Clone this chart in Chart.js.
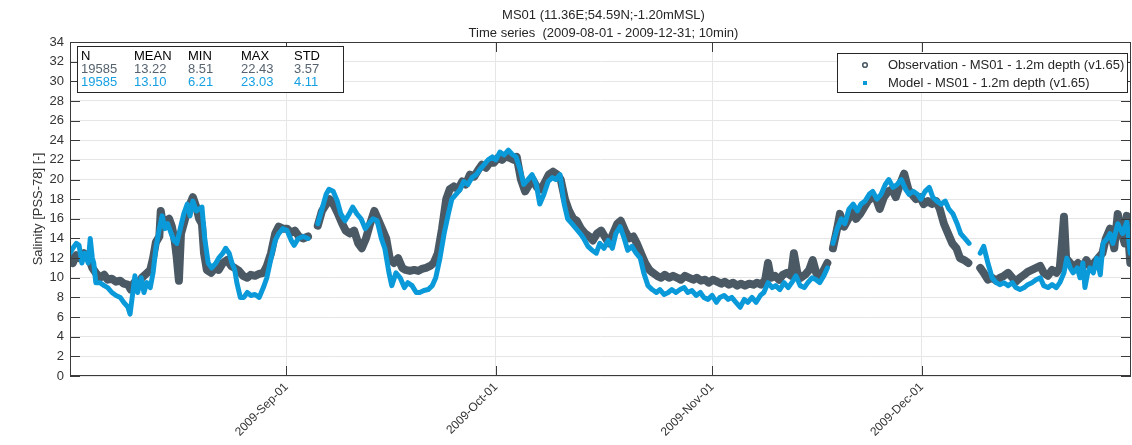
<!DOCTYPE html>
<html>
<head>
<meta charset="utf-8">
<title>MS01 salinity time series</title>
<script src="https://cdn.jsdelivr.net/npm/chart.js@4.4.1/dist/chart.umd.min.js"></script>
<style>
  html, body { margin: 0; padding: 0; background: #ffffff; }
  #wrap { width: 1132px; height: 445px; }
</style>
</head>
<body>
<div id="wrap"><canvas id="chart" width="1132" height="445"></canvas></div>
<script>
// Time axis: days since 2009-08-01 00:00 (range 2009-08-01 .. 2009-12-31)
const dayMin = 0;
const dayMax = 152;
const tickDays = [31, 61, 92, 122];
const tickLabels = ['2009-Sep-01', '2009-Oct-01', '2009-Nov-01', '2009-Dec-01'];

// Observed salinity (null = missing record)
const obsDay = [
  0.0, 0.4, 0.9, 1.4, 2.0, 2.6, 3.2, 3.7, 4.3, 4.9,
  5.4, 6.0, 6.6, 7.2, 7.7, 8.3, 8.7, 9.2, 9.7, 10.3,
  10.9, 11.5, 11.9, 12.3, 12.8, 13.0, 13.3, 13.8, 14.2, 14.6,
  15.0, 15.3, 15.6, 15.9, 16.3, 16.8, 17.2, 17.6, 18.1, 18.5,
  18.9, 19.2, 19.6, 20.2, 20.8, 21.3, 21.9, 22.5, 23.1, 23.6,
  24.2, 24.8, 25.4, 25.9, 26.5, 27.1, 27.7, 28.2, 28.8, 29.4,
  29.9, 30.5, 31.1, 31.7, 32.2, 32.8, 33.4, 34.1, 34.8,
  35.5, 36.1, 36.7, 37.2, 37.8, 38.4, 39.0, 39.5, 40.1, 40.7,
  41.3, 41.8, 42.4, 43.0, 43.6, 44.1, 44.7, 45.3, 45.8, 46.4,
  47.0, 47.6, 48.1, 48.7, 49.3, 49.9, 50.4, 51.0, 51.6, 52.1,
  52.7, 53.3, 53.9, 54.4, 55.0, 55.6, 56.2, 56.7, 57.3, 57.9,
  58.5, 59.0, 59.6, 60.2, 60.7, 61.3, 61.9, 62.5, 63.0, 63.6,
  64.0, 64.6, 65.2, 65.8, 66.3, 66.9, 67.5, 68.1, 68.6, 69.2,
  69.8, 70.3, 70.9, 71.5, 72.1, 72.6, 73.2, 73.8, 74.4, 74.9,
  75.5, 76.1, 76.6, 77.2, 77.8, 78.4, 78.9, 79.5, 80.1, 80.7,
  81.2, 81.8, 82.4, 83.0, 83.5, 84.1, 84.7, 85.2, 85.8, 86.4,
  87.0, 87.5, 88.1, 88.7, 89.3, 89.8, 90.4, 91.0, 91.5, 92.1,
  92.7, 93.3, 93.8, 94.4, 95.0, 95.6, 96.1, 96.7, 97.3, 97.9,
  98.4, 99.0, 99.6, 100.0, 100.4, 101.0, 101.6, 102.1, 102.7, 103.3,
  103.7, 104.2, 104.7, 105.3, 105.9, 106.4, 106.9, 107.4, 108.0, 108.5, 108.9,
  109.3, 109.9, 110.3, 110.9, 111.5, 112.0, 112.6, 113.2, 113.8, 114.3,
  114.9, 115.5, 116.0, 116.6, 117.2, 117.8, 118.3, 118.9, 119.5, 120.1,
  120.6, 121.2, 121.8, 122.3, 122.9, 123.5, 124.1, 124.6, 125.2, 125.8,
  126.4, 127.0, 127.5, 128.1, 128.7, 129.5,
  130.4, 130.9, 131.5, 132.1, 132.7, 133.2, 133.8, 134.4, 135.0, 135.5,
  136.1, 136.7, 137.2, 137.8, 138.4, 139.0, 139.5, 140.1, 140.7, 141.3,
  141.8, 142.1, 142.4, 142.7, 143.3, 143.8, 144.4, 145.0, 145.6, 146.1,
  146.7, 147.3, 147.9, 148.4, 149.0, 149.6, 150.1, 150.7, 151.1, 151.4,
  151.9
];
const obsSal = [
  12.1, 11.5, 12.3, 12.0, 12.5, 12.2, 11.0, 10.5, 10.0, 10.3,
  9.8, 9.9, 9.6, 9.7, 9.4, 9.3, 8.8, 9.5, 9.3, 10.0,
  10.4, 10.8, 12.0, 13.6, 14.2, 16.8, 15.5, 15.8, 16.0, 15.2,
  13.8, 12.0, 9.7, 14.5, 15.5, 16.8, 17.5, 18.2, 17.2, 16.0,
  15.5, 12.5, 10.8, 10.5, 11.0, 10.8, 11.5, 11.8, 11.2, 11.0,
  10.7, 10.2, 10.0, 10.3, 10.2, 10.4, 10.5, 11.2, 12.5, 14.5,
  15.2, 15.0, 15.0, 14.6, 14.8, 14.2, 14.0, 14.2, null,
  15.3, 16.8, 17.5, 18.0, 17.4, 16.5, 15.5, 14.8, 14.5, 14.8,
  13.5, 13.0, 14.0, 15.5, 16.8, 16.0, 15.0, 14.0, 12.0, 11.5,
  12.0, 11.0, 10.8, 10.7, 10.8, 10.7, 10.9, 11.0, 11.2, 11.5,
  12.5, 15.0, 18.0, 19.0, 19.3, 19.0, 19.8, 19.5, 20.5, 20.3,
  21.0, 21.5, 21.2, 21.8, 21.7, 22.2, 22.0, 22.4, 22.2, 22.0,
  22.3, 20.0, 18.8, 19.5, 20.0, 19.2, 19.0, 19.8, 20.5, 20.8,
  20.5, 20.0, 18.0, 16.8, 16.0, 15.8, 15.0, 14.5, 14.2, 13.8,
  14.5, 14.8, 14.2, 13.5, 14.5, 15.5, 15.8, 14.8, 14.0, 14.2,
  13.5, 12.5, 11.5, 10.8, 10.5, 10.2, 10.0, 10.3, 10.0, 10.2,
  10.0, 9.8, 10.2, 10.0, 9.8, 10.0, 9.7, 9.8, 9.5, 9.8,
  9.6, 9.4, 9.6, 9.3, 9.5, 9.2, 9.4, 9.2, 9.4, 9.3,
  9.5, 9.3, 9.8, 11.5, 10.0, 10.2, 9.8, 10.3, 10.5, 10.2,
  12.5, 10.5, 10.0, 10.3, 10.8, 11.8, 10.5, 10.0, 10.8, 11.5, null,
  13.0, 15.0, 16.5, 15.2, 16.0, 16.8, 16.0, 16.5, 17.2, 17.8,
  18.2, 18.0, 17.0, 18.2, 18.8, 19.0, 18.2, 19.5, 20.6, 19.0,
  18.5, 18.0, 18.2, 17.5, 17.8, 17.5, 17.8, 17.0, 15.5, 14.5,
  13.5, 13.0, 12.0, 11.8, 11.5, null,
  11.0, 10.5, 9.8, 10.0, 9.7, 10.0, 10.2, 10.5, 10.0, 9.6,
  10.0, 10.3, 10.6, 10.8, 11.0, 11.2, 10.5, 10.2, 10.8, 10.5,
  11.0, 13.5, 16.2, 12.0, 11.5, 11.0, 11.5, 11.0, 11.8, 11.2,
  11.5, 12.0, 12.5, 14.0, 15.0, 13.0, 16.5, 14.5, 13.5, 16.3,
  11.5
];

// Modelled salinity (null = no matching observation)
const modDay = [
  0.0, 0.4, 0.9, 1.3, 1.7, 2.1, 2.6, 2.9, 3.2, 3.4,
  3.7, 4.3, 4.9, 5.4, 6.0, 6.6, 7.2, 7.7, 8.3, 8.6,
  9.0, 9.3, 9.7, 10.2, 10.6, 11.0, 11.5, 11.9, 12.3, 12.8,
  13.2, 13.6, 14.0, 14.5, 14.9, 15.3, 15.8, 16.3, 16.8, 17.2,
  17.6, 18.1, 18.5, 18.9, 19.3, 19.8, 20.3, 20.9, 21.3, 21.9,
  22.3, 22.8, 23.2, 23.6, 23.9, 24.4, 24.9, 25.4, 25.9, 26.5,
  27.1, 27.7, 28.2, 28.8, 29.4, 29.9, 30.5, 31.1, 31.7, 32.1,
  32.7, 33.4, 34.1, 34.8,
  35.5, 36.1, 36.7, 37.1, 37.7, 38.3, 38.8, 39.4, 40.0, 40.5,
  41.1, 41.7, 42.3, 42.8, 43.4, 44.0, 44.6, 45.1, 45.7, 46.1,
  46.7, 47.3, 47.9, 48.4, 49.0, 49.6, 50.1, 50.7, 51.3, 51.9,
  52.4, 53.0, 53.6, 54.2, 54.7, 55.3, 55.9, 56.4, 57.0, 57.6,
  58.2, 58.7, 59.3, 59.9, 60.5, 61.0, 61.6, 62.2, 62.8, 63.3,
  63.9, 64.5, 65.0, 65.6, 66.2, 66.8, 67.3, 67.9, 68.5, 69.1,
  69.6, 70.2, 70.8, 71.3, 71.9, 72.5, 73.1, 73.6, 74.2, 74.8,
  75.4, 75.9, 76.5, 77.1, 77.7, 78.2, 78.8, 79.4, 79.9, 80.5,
  81.1, 81.7, 82.2, 82.8, 83.4, 84.0, 84.5, 85.1, 85.7, 86.2,
  86.8, 87.4, 88.0, 88.5, 89.1, 89.7, 90.3, 90.8, 91.4, 92.0,
  92.6, 93.1, 93.7, 94.3, 94.8, 95.4, 96.0, 96.6, 97.1, 97.7,
  98.3, 98.9, 99.4, 100.0, 100.6, 101.1, 101.7, 102.3, 102.9, 103.4,
  104.0, 104.6, 105.2, 105.7, 106.3, 106.9, 107.4, 108.0, 108.5, 108.9,
  109.3, 109.9, 110.5, 111.0, 111.6, 112.2, 112.8, 113.3, 113.9, 114.5,
  115.0, 115.6, 116.2, 116.8, 117.3, 117.9, 118.5, 119.1, 119.7, 120.2,
  120.8, 121.4, 121.9, 122.5, 123.1, 123.6, 124.2, 124.8, 125.4, 125.9,
  126.5, 127.1, 127.6, 128.2, 128.8, 129.5,
  130.4, 130.9, 131.5, 132.1, 132.7, 133.2, 133.8, 134.4, 135.0, 135.5,
  136.1, 136.7, 137.2, 137.8, 138.4, 139.0, 139.5, 140.1, 140.7, 141.3,
  141.8, 142.4, 142.8, 143.3, 143.7, 144.3, 144.7, 145.1, 145.4, 145.8,
  146.1, 146.6, 147.1, 147.6, 148.0, 148.6, 149.0, 149.4, 150.1, 150.8,
  151.4, 151.9
];
const modSal = [
  12.5, 13.0, 13.5, 13.3, 11.5, 12.5, 11.5, 14.0, 12.0, 11.5,
  9.5, 9.5, 9.2, 9.0, 8.5, 8.2, 8.0, 7.5, 7.0, 6.3,
  8.5, 10.2, 8.5, 10.0, 8.5, 9.5, 9.0, 10.5, 13.0, 15.0,
  16.3, 15.0, 15.5, 14.5, 13.8, 13.5, 15.0, 16.5, 17.5, 16.3,
  17.8, 16.8, 17.0, 17.2, 14.0, 11.5, 11.0, 11.5, 12.0, 12.5,
  13.0, 12.5, 11.5, 10.8, 9.5, 8.0, 8.0, 8.5, 8.2, 8.3,
  8.0, 9.0, 10.0, 12.0, 13.8, 14.5, 15.0, 14.8, 13.8, 13.3,
  14.0, 14.2, 14.0, null,
  15.5, 17.0, 18.5, 19.0, 18.8, 17.8, 16.5, 15.8, 16.5, 17.2,
  16.5, 16.0, 15.0, 15.5, 16.0, 15.8, 14.0, 13.0, 10.5, 9.2,
  10.5, 10.0, 9.0, 9.5, 9.2, 8.5, 8.5, 8.7, 8.8, 9.2,
  10.0, 12.0, 14.5, 16.5, 18.0, 18.5, 19.0, 19.8, 19.5, 20.2,
  20.5, 21.0, 21.5, 22.0, 22.3, 22.0, 22.8, 22.5, 23.0, 22.6,
  22.3, 21.0, 19.5, 20.0, 20.5, 19.5, 17.5, 18.5, 19.8, 20.2,
  20.0, 20.5, 17.5, 16.0, 15.5, 15.0, 14.5, 14.0, 13.2, 12.8,
  12.5, 13.5, 13.0, 13.8, 13.0, 14.5, 15.2, 14.0, 12.8, 13.2,
  12.5, 12.0, 10.5, 9.2, 8.8, 8.5, 8.8, 8.3, 8.5, 8.8,
  8.5, 8.8, 9.0, 8.5, 8.7, 8.2, 8.5, 8.0, 7.8, 8.2,
  7.5, 8.0, 8.2, 7.8, 8.0, 7.5, 7.0, 7.8, 7.5, 8.0,
  7.5, 8.2, 8.5, 9.5, 9.0, 9.2, 8.8, 9.5, 9.0, 9.5,
  10.2, 9.2, 9.0, 9.5, 10.0, 9.8, 9.5, 10.2, 11.0, null,
  13.5, 15.0, 16.0, 15.5, 17.0, 17.5, 16.8, 17.5, 17.8, 18.5,
  18.8, 18.0, 18.5, 19.5, 20.0, 19.2, 19.5, 20.0, 19.0, 18.5,
  18.8, 18.5, 18.0, 18.8, 19.2, 18.2, 17.8, 17.5, 17.8, 17.0,
  16.5, 15.5, 14.5, 14.0, 13.5, null,
  12.5, 13.2, 11.5, 10.0, 9.5, 9.3, 9.5, 9.2, 9.5, 9.0,
  8.8, 9.0, 9.3, 9.5, 9.8, 10.0, 9.2, 9.0, 9.3, 9.0,
  9.5, 10.5, 12.0, 11.0, 10.5, 11.0, 10.0, 11.5, 9.0, 10.5,
  11.0, 10.5, 12.0, 10.3, 13.5, 14.0, 14.5, 13.5, 15.5, 14.5,
  15.7, 12.5
];

// Summary statistics table
const statHeads = ['N', 'MEAN', 'MIN', 'MAX', 'STD'];
const obsStats = ['19585', '13.22', '8.51', '22.43', '3.57'];
const modStats = ['19585', '13.10', '6.21', '23.03', '4.11'];

const titleLines = ['MS01 (11.36E;54.59N;-1.20mMSL)', 'Time series  (2009-08-01 - 2009-12-31; 10min)'];
const obsLabel = 'Observation - MS01 - 1.2m depth (v1.65)';
const modLabel = 'Model - MS01 - 1.2m depth (v1.65)';

const FONT = '"Liberation Sans", Arial, Helvetica, sans-serif';
const OBS_COLOR = '#4b5965';
const MOD_COLOR = '#0b9ad9';
const AXIS_COLOR = '#3a3a3a';
const TEXT_COLOR = '#262626';
const GRID_COLOR = '#e6e6e6';

const toPoints = (days, vals) => days.map((d, i) => ({ x: d, y: vals[i] }));

// Title above the axes
const titlePlugin = {
  id: 'titleLines',
  afterDraw(chart) {
    const { ctx, chartArea: a } = chart;
    const cx = (a.left + a.right) / 2 + 3;
    ctx.save();
    ctx.fillStyle = TEXT_COLOR;
    ctx.font = '13px ' + FONT;
    ctx.textAlign = 'center';
    ctx.textBaseline = 'middle';
    ctx.fillText(titleLines[0], cx, 15);
    ctx.fillText(titleLines[1], cx, 33);
    ctx.restore();
  }
};

// Box outline and inward tick marks on all four sides
const framePlugin = {
  id: 'frame',
  afterDraw(chart) {
    const { ctx, chartArea: a, scales } = chart;
    const xs = scales.x, ys = scales.y;
    const tl = 10;
    ctx.save();
    ctx.strokeStyle = AXIS_COLOR;
    ctx.lineWidth = 1;
    ctx.beginPath();
    ys.ticks.forEach(t => {
      const py = Math.round(ys.getPixelForValue(t.value)) + 0.5;
      ctx.moveTo(a.left, py); ctx.lineTo(a.left + tl, py);
      ctx.moveTo(a.right, py); ctx.lineTo(a.right - tl, py);
    });
    xs.ticks.forEach(t => {
      const px = Math.round(xs.getPixelForValue(t.value)) + 0.5;
      ctx.moveTo(px, a.bottom); ctx.lineTo(px, a.bottom - tl);
      ctx.moveTo(px, a.top); ctx.lineTo(px, a.top + tl);
    });
    ctx.stroke();
    ctx.strokeRect(Math.round(a.left) + 0.5, Math.round(a.top) + 0.5,
                   Math.round(a.right - a.left) - 1, Math.round(a.bottom - a.top) - 1);
    ctx.restore();
  }
};

// Statistics box (top left) and legend box (top right)
const boxesPlugin = {
  id: 'boxes',
  afterDraw(chart) {
    const { ctx, chartArea: a } = chart;
    ctx.save();
    ctx.font = '13px ' + FONT;
    ctx.textBaseline = 'middle';
    ctx.textAlign = 'left';

    // statistics
    const sx = a.left + 7, sy = a.top + 4, sw = 266, sh = 46;
    ctx.fillStyle = '#ffffff';
    ctx.fillRect(sx, sy, sw, sh);
    ctx.strokeStyle = '#262626';
    ctx.lineWidth = 1;
    ctx.strokeRect(sx + 0.5, sy + 0.5, sw, sh);
    const colX = [4, 57, 111, 164, 217];
    const rows = [[statHeads, '#000000'], [obsStats, '#56636e'], [modStats, '#16a0e2']];
    rows.forEach(([cells, color], r) => {
      ctx.fillStyle = color;
      cells.forEach((txt, c) => ctx.fillText(txt, sx + colX[c], sy + 10 + r * 13));
    });

    // legend
    const lw = 290, lh = 39;
    const lx = a.right - 4 - lw, ly = a.top + 11;
    ctx.fillStyle = '#ffffff';
    ctx.fillRect(lx, ly, lw, lh);
    ctx.strokeStyle = '#262626';
    ctx.strokeRect(lx + 0.5, ly + 0.5, lw, lh);
    const ds = chart.data.datasets;
    ds.forEach((d, i) => {
      const my = ly + 12 + i * 18;
      const mx = lx + 28;
      if (d.legendMarker === 'circle') {
        ctx.beginPath();
        ctx.arc(mx, my, 2.3, 0, Math.PI * 2);
        ctx.strokeStyle = d.borderColor;
        ctx.lineWidth = 1.6;
        ctx.stroke();
      } else {
        ctx.fillStyle = d.borderColor;
        ctx.fillRect(mx - 2, my - 2, 4, 4);
      }
      ctx.fillStyle = TEXT_COLOR;
      ctx.fillText(d.label, lx + 51, my);
    });
    ctx.restore();
  }
};

Chart.defaults.font.family = FONT;

new Chart(document.getElementById('chart'), {
  type: 'line',
  data: {
    datasets: [
      {
        label: obsLabel,
        data: toPoints(obsDay, obsSal),
        borderColor: OBS_COLOR,
        borderWidth: 8,
        borderJoinStyle: 'round',
        borderCapStyle: 'round',
        pointRadius: 0,
        spanGaps: false,
        order: 2,
        legendMarker: 'circle'
      },
      {
        label: modLabel,
        data: toPoints(modDay, modSal),
        borderColor: MOD_COLOR,
        borderWidth: 5,
        borderJoinStyle: 'round',
        borderCapStyle: 'round',
        pointRadius: 0,
        spanGaps: false,
        order: 1,
        legendMarker: 'square'
      }
    ]
  },
  options: {
    responsive: false,
    animation: false,
    devicePixelRatio: 1,
    layout: { padding: { top: 42, right: 1, left: 0, bottom: 0 } },
    plugins: {
      legend: { display: false },
      title: { display: false },
      tooltip: { enabled: false }
    },
    elements: { line: { tension: 0 } },
    scales: {
      x: {
        type: 'linear',
        min: dayMin,
        max: dayMax,
        afterBuildTicks: s => { s.ticks = tickDays.map(v => ({ value: v })); },
        afterFit: s => { s.height = 69; },
        grid: { color: GRID_COLOR, drawTicks: false, lineWidth: 1 },
        border: { display: false },
        ticks: {
          autoSkip: false,
          minRotation: 45,
          maxRotation: 45,
          padding: 4,
          color: '#333333',
          font: { size: 12, family: FONT },
          callback: v => { const i = tickDays.indexOf(v); return i >= 0 ? tickLabels[i] : ''; }
        }
      },
      y: {
        min: 0,
        max: 34,
        afterFit: s => { s.width = 70; },
        grid: { color: GRID_COLOR, drawTicks: false, lineWidth: 1 },
        border: { display: false },
        ticks: { stepSize: 2, padding: 6, color: '#333333', font: { size: 13, family: FONT } },
        title: {
          display: true,
          text: 'Salinity [PSS-78] [-]',
          color: '#333333',
          font: { size: 13, family: FONT },
          padding: { top: 31, bottom: 0 }
        }
      }
    }
  },
  plugins: [titlePlugin, framePlugin, boxesPlugin]
});
</script>
</body>
</html>
